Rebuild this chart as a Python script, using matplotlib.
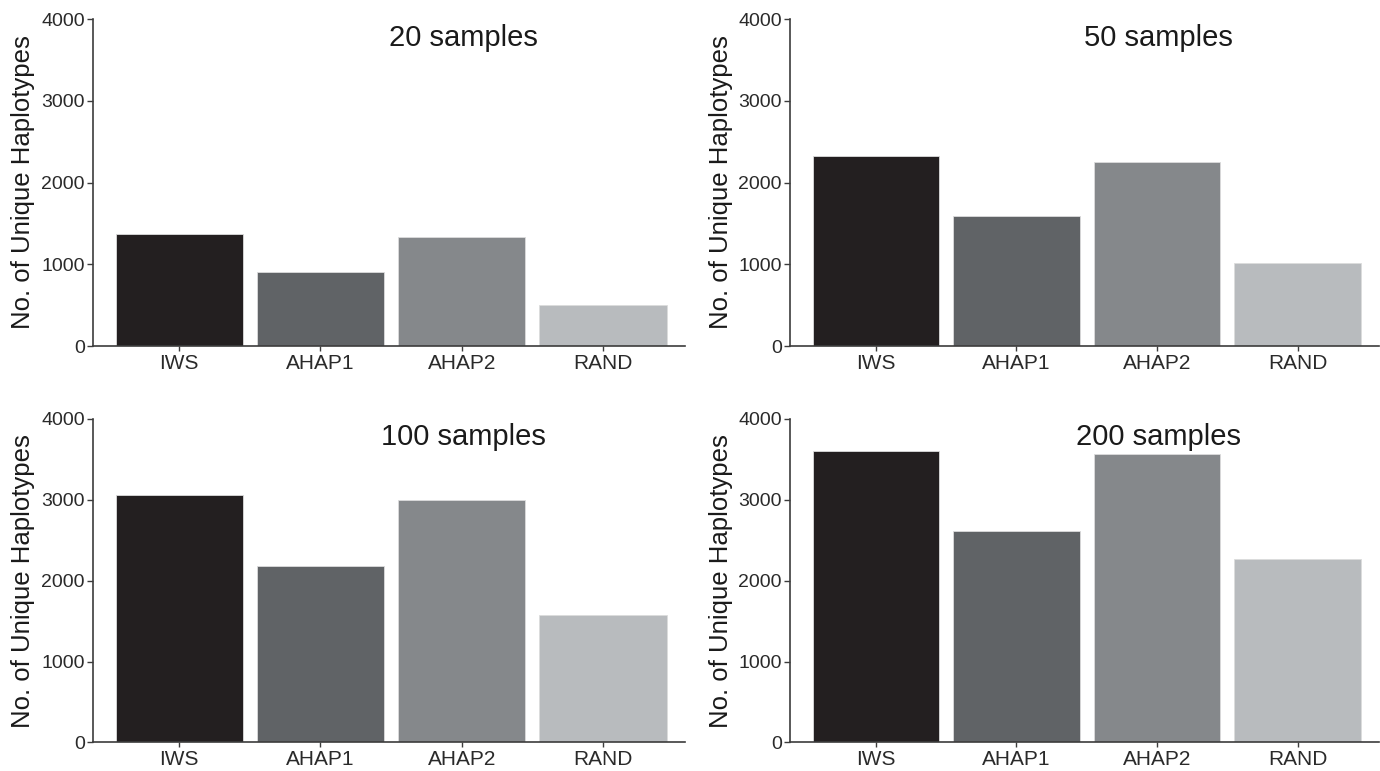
import matplotlib
matplotlib.use("Agg")
import matplotlib.pyplot as plt

categories = ["IWS", "AHAP1", "AHAP2", "RAND"]
bar_colors = ["#231f20", "#606366", "#85888b", "#b8bbbe"]

titles = ["20 samples", "50 samples", "100 samples", "200 samples"]
counts_20 = [1366, 907, 1338, 497]
counts_50 = [2328, 1594, 2247, 1011]
counts_100 = [3061, 2176, 3000, 1580]
counts_200 = [3600, 2608, 3567, 2269]
all_counts = [counts_20, counts_50, counts_100, counts_200]

y_ticks = [0, 1000, 2000, 3000, 4000]

plt.rcParams["font.family"] = ["Liberation Sans", "DejaVu Sans"]

fig = plt.figure(figsize=(13.8, 7.71), dpi=100)

# axes boxes in figure fraction: left, bottom, width, height
boxes = [
    [0.0674, 0.5512, 0.4290, 0.4241],
    [0.5725, 0.5512, 0.4268, 0.4241],
    [0.0674, 0.0370, 0.4290, 0.4200],
    [0.5725, 0.0370, 0.4268, 0.4200],
]

axis_color = "#3c3c3c"

for box, title, counts in zip(boxes, titles, all_counts):
    ax = fig.add_axes(box)
    xs = list(range(len(categories)))
    ax.bar(xs, counts, width=0.9, color=bar_colors, edgecolor="#dcdcdc", linewidth=0.6)
    ax.set_xlim(-0.61, 3.58)
    ax.set_ylim(0, 4000)
    ax.set_yticks(y_ticks)
    ax.set_xticks(xs)
    ax.set_xticklabels(categories)
    for side in ["top", "right"]:
        ax.spines[side].set_visible(False)
    for side in ["left", "bottom"]:
        ax.spines[side].set_color(axis_color)
        ax.spines[side].set_linewidth(1.2)
    ax.tick_params(axis="y", length=4, width=1, color=axis_color, pad=2,
                   labelsize=14, labelcolor="#2a2a2a")
    ax.tick_params(axis="x", length=3.5, width=1, color=axis_color, pad=2,
                   labelsize=15, labelcolor="#2a2a2a")
    ax.set_ylabel("No. of Unique Haplotypes", fontsize=18.5, color="#1a1a1a", labelpad=4)
    ax.text(0.625, 0.943, title, transform=ax.transAxes, ha="center", va="center",
            fontsize=21, color="#1a1a1a")

fig.savefig("out.png", dpi=100)
plt.close(fig)
